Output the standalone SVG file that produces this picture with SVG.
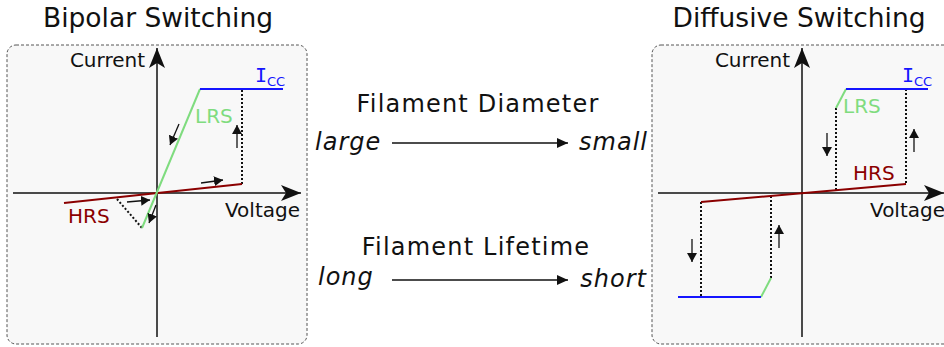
<svg xmlns="http://www.w3.org/2000/svg" width="944" height="347" viewBox="0 0 944 347">
  <style>
    .title { font-family: "DejaVu Sans", sans-serif; font-size: 26.5px; fill: #111; }
    .axlbl { font-family: "DejaVu Sans", sans-serif; font-size: 20px; fill: #111; }
    .mid { font-family: "DejaVu Sans", sans-serif; font-size: 24px; letter-spacing: 1.2px; fill: #111; }
    .ital { font-family: "DejaVu Sans", sans-serif; font-size: 24px; letter-spacing: 1px; font-style: italic; fill: #111; }
    .serifI { font-family: "DejaVu Sans Mono", monospace; }
    .panel { fill: #f8f8f8; stroke: #555; stroke-width: 1; stroke-dasharray: 3 2; }
    .axis { stroke: #111; stroke-width: 1.5; fill: none; }
    .hrs { stroke: #8b0000; stroke-width: 2; fill: none; }
    .lrs { stroke: #7fdc7f; stroke-width: 2; fill: none; }
    .icc { stroke: #1515ff; stroke-width: 2; fill: none; }
    .dot { stroke: #111; stroke-width: 2; stroke-dasharray: 2 2; fill: none; }
    .small { stroke: #111; stroke-width: 1.3; fill: none; marker-end: url(#head); }
    .flow { stroke: #111; stroke-width: 1.3; fill: none; marker-end: url(#fhead); }
    .tg { fill: #7fdc7f; }
    .tr { fill: #8b0000; }
    .tb { fill: #1515ff; }
  </style>
  <defs>
    <marker id="axhead" markerUnits="userSpaceOnUse" markerWidth="24" markerHeight="18" refX="20" refY="8" orient="auto" viewBox="0 0 24 18">
      <path d="M20,8 L0,0 L5,8 L0,16 Z" fill="#111"/>
    </marker>
    <marker id="head" markerUnits="userSpaceOnUse" markerWidth="12" markerHeight="12" refX="9" refY="5" orient="auto" viewBox="0 0 12 12">
      <path d="M9,5 L0,0 L0,10 Z" fill="#111"/>
    </marker>
    <marker id="fhead" markerUnits="userSpaceOnUse" markerWidth="14" markerHeight="12" refX="11" refY="5" orient="auto" viewBox="0 0 14 12">
      <path d="M11,5 L0,0 L0,10 Z" fill="#111"/>
    </marker>
  </defs>

  <!-- Bipolar switching panel -->
  <g id="bipolar">
    <text class="title" x="158" y="27" text-anchor="middle">Bipolar Switching</text>
    <rect class="panel" x="7" y="45" width="300" height="299" rx="9"/>
    <line class="axis" x1="157" y1="337" x2="157" y2="48" marker-end="url(#axhead)"/>
    <line class="axis" x1="13" y1="193" x2="301" y2="193" marker-end="url(#axhead)"/>
    <text class="axlbl" x="145" y="67" text-anchor="end">Current</text>
    <text class="axlbl" x="300" y="217" text-anchor="end">Voltage</text>
    <line class="dot" x1="242" y1="184" x2="242" y2="89"/>
    <line class="dot" x1="117" y1="199" x2="142" y2="228"/>
    <line class="hrs" x1="64" y1="203" x2="242" y2="184"/>
    <line class="lrs" x1="200" y1="89" x2="142" y2="228"/>
    <line class="icc" x1="200" y1="89" x2="283" y2="89"/>
    <text class="axlbl tg" x="195" y="123">LRS</text>
    <text class="axlbl tr" x="68" y="223">HRS</text>
    <text class="axlbl tb" x="255" y="82"><tspan class="serifI">I</tspan><tspan font-size="13" dy="4">CC</tspan></text>
    <line class="small" x1="237" y1="148" x2="237" y2="125"/>
    <line class="small" x1="179" y1="124" x2="170" y2="145"/>
    <line class="small" x1="201" y1="183" x2="223" y2="180"/>
    <line class="small" x1="127" y1="202" x2="150" y2="200"/>
    <line class="small" x1="156" y1="205" x2="149" y2="223"/>
  </g>

  <!-- Filament trends between the panels -->
  <g id="diameter">
    <text class="mid" x="478" y="112" text-anchor="middle">Filament Diameter</text>
    <text class="ital" x="315" y="150">large</text>
    <text class="ital" x="648" y="150" text-anchor="end">small</text>
  </g>
  <g id="lifetime">
    <text class="mid" x="476" y="255" text-anchor="middle">Filament Lifetime</text>
    <text class="ital" x="318" y="285">long</text>
    <text class="ital" x="647" y="287" text-anchor="end">short</text>
  </g>
  <g id="connectors">
    <line class="flow" x1="392" y1="143" x2="568" y2="143"/>
    <line class="flow" x1="392" y1="280" x2="568" y2="280"/>
  </g>

  <!-- Diffusive switching panel -->
  <g id="diffusive">
    <text class="title" x="799" y="27" text-anchor="middle">Diffusive Switching</text>
    <rect class="panel" x="652" y="45" width="305" height="299" rx="9"/>
    <line class="axis" x1="802" y1="337" x2="802" y2="48" marker-end="url(#axhead)"/>
    <line class="axis" x1="658" y1="193" x2="944" y2="193" marker-end="url(#axhead)"/>
    <text class="axlbl" x="790" y="67" text-anchor="end">Current</text>
    <text class="axlbl" x="870" y="217">Voltage</text>
    <line class="dot" x1="836" y1="108" x2="836" y2="191"/>
    <line class="dot" x1="906" y1="89" x2="906" y2="184"/>
    <line class="dot" x1="771" y1="278" x2="771" y2="196"/>
    <line class="dot" x1="701" y1="202" x2="701" y2="297"/>
    <line class="hrs" x1="701" y1="202" x2="906" y2="184"/>
    <line class="lrs" x1="846" y1="89" x2="836" y2="108"/>
    <line class="lrs" x1="761" y1="297" x2="771" y2="278"/>
    <line class="icc" x1="846" y1="89" x2="928" y2="89"/>
    <line class="icc" x1="678" y1="297" x2="761" y2="297"/>
    <text class="axlbl tg" x="843" y="113">LRS</text>
    <text class="axlbl tr" x="853" y="180">HRS</text>
    <text class="axlbl tb" x="902" y="82"><tspan class="serifI">I</tspan><tspan font-size="13" dy="4">CC</tspan></text>
    <line class="small" x1="827" y1="133" x2="827" y2="156"/>
    <line class="small" x1="914" y1="152" x2="914" y2="129"/>
    <line class="small" x1="692" y1="239" x2="692" y2="262"/>
    <line class="small" x1="779" y1="248" x2="779" y2="225"/>
  </g>
</svg>
